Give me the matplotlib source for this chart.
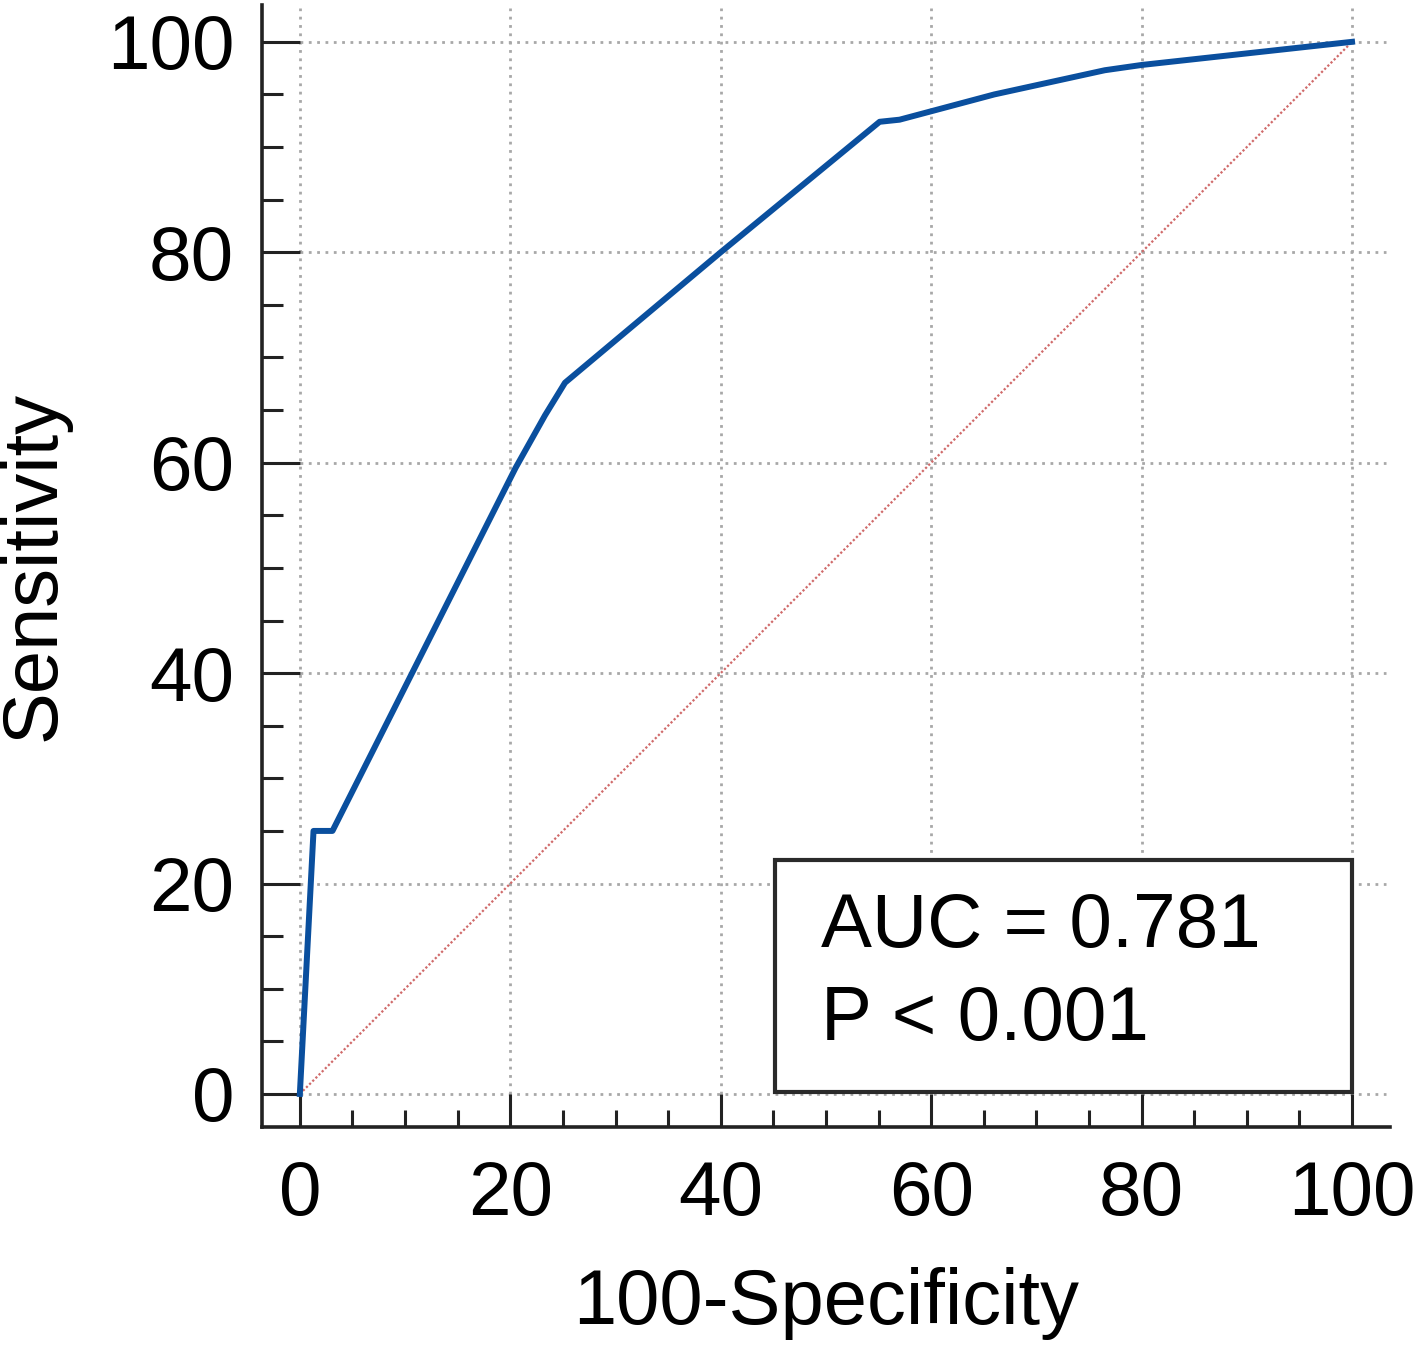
import numpy as np
import matplotlib.pyplot as plt
from matplotlib.patches import Rectangle
from matplotlib.ticker import MultipleLocator

plt.rcParams['font.family'] = ['Liberation Sans', 'DejaVu Sans']

# ROC curve
fpr = [0, 1.3, 3.1, 20.5, 23.3, 25.2, 40.0, 55.1, 57.0, 66.0, 76.5, 80.0, 100]
tpr = [0, 25.0, 25.0, 59.5, 64.5, 67.6, 80.0, 92.4, 92.6, 95.0, 97.3, 97.8, 100]
ticks = [0, 20, 40, 60, 80, 100]
auc_text = 'AUC = 0.781'
p_text = 'P < 0.001'

fig = plt.figure(figsize=(14.16, 13.51), dpi=100)
ax = fig.add_axes([0.185, 0.1658, 0.7966, 0.8305])

# grid drawn by hand so it starts at the data origin
grid_kw = dict(color='#a8a8a8', linestyle=(0, (1, 2)), linewidth=2.0, zorder=0)
ax.hlines(ticks, 0, 103.2, **grid_kw)
ax.vlines(ticks, 0, 103.2, **grid_kw)

ax.plot([0, 100], [0, 100], color='#d06a6a', linestyle=(0, (1, 1)), linewidth=1.6, zorder=1)
ax.plot(fpr, tpr, color='#0a4f9e', linewidth=4.3, solid_joinstyle='round', zorder=2)

ax.add_patch(Rectangle((45.2, 0.2), 54.8, 22.0, facecolor='white',
                       edgecolor='#2a2a2a', linewidth=3.0, zorder=3))
ax.text(49.5, 15.8, auc_text, fontsize=55, va='center', ha='left', zorder=4)
ax.text(49.5, 7.0, p_text, fontsize=55, va='center', ha='left', zorder=4)

ax.set_xlim(-3.6, 103.6)
ax.set_ylim(-3.14, 103.5)
ax.set_xticks(ticks)
ax.set_yticks(ticks)
ax.xaxis.set_minor_locator(MultipleLocator(5))
ax.yaxis.set_minor_locator(MultipleLocator(5))
ax.tick_params(axis='x', which='major', direction='in', length=24, width=2.2, pad=24,
               labelsize=55, color='#222222')
ax.tick_params(axis='x', which='minor', direction='in', length=12, width=2.2, color='#222222')
ax.tick_params(axis='y', which='major', direction='in', length=27, width=2.2, pad=20,
               labelsize=55, color='#222222')
ax.tick_params(axis='y', which='minor', direction='in', length=15, width=2.2, color='#222222')

for side in ['top', 'right']:
    ax.spines[side].set_visible(False)
for side in ['left', 'bottom']:
    ax.spines[side].set_linewidth(2.6)
    ax.spines[side].set_color('#222222')

ax.set_xlabel('100-Specificity', fontsize=56, labelpad=26)
ax.set_ylabel('Sensitivity', fontsize=56, labelpad=26)

fig.savefig('out.png', dpi=100)
